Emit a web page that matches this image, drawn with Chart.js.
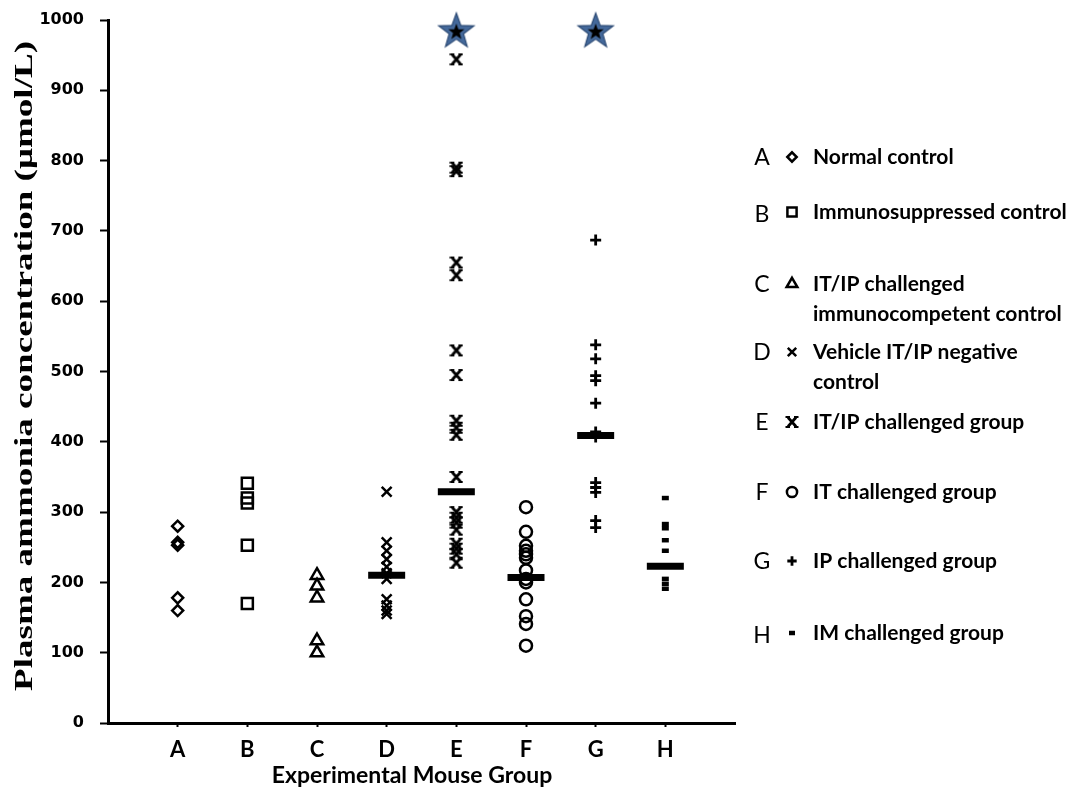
<!DOCTYPE html>
<html>
<head>
<meta charset="utf-8">
<script src="https://cdn.jsdelivr.net/npm/chart.js@4/dist/chart.umd.min.js"></script>
<style>
  html, body { margin: 0; padding: 0; background: #fff; }
  #wrap { width: 1088px; height: 795px; }
</style>
</head>
<body>
<div id="wrap"><canvas id="ammoniaChart" width="1088" height="795"></canvas></div>
<script>
// group letters on the x axis and their legend text
const groups = ['A', 'B', 'C', 'D', 'E', 'F', 'G', 'H'];
const groupLabels = [
    ['Normal control'],
    ['Immunosuppressed control'],
    ['IT/IP challenged', 'immunocompetent control'],
    ['Vehicle IT/IP negative', 'control'],
    ['IT/IP challenged group'],
    ['IT challenged group'],
    ['IP challenged group'],
    ['IM challenged group']
];

// plasma ammonia per mouse (umol/L)
const groupA = [280, 257, 253, 178, 160];
const groupB = [341, 320, 313, 253, 170];
const groupC = [210, 195, 178, 117, 100];
const groupD = [329, 257, 245, 233, 222, 213, 205, 176, 167, 160, 155];
const groupE = [944, 790, 785, 655, 637, 530, 495, 430, 420, 410, 350, 300, 292, 285, 275, 255, 248, 240, 228];
const groupF = [307, 272, 252, 245, 240, 235, 217, 205, 200, 176, 152, 141, 110];
const groupG = [687, 538, 518, 494, 487, 455, 414, 407, 342, 335, 328, 288, 278];
const groupH = [320, 283, 277, 260, 245, 205, 198, 191];

// central bars (A-C have none) and significance stars
const medians = [null, null, null, 210, 329, 207, 409, 223];
const stars = [null, null, null, null, 985, null, 985, null];

const yTicks = [0, 100, 200, 300, 400, 500, 600, 700, 800, 900, 1000];

document.addEventListener('DOMContentLoaded', function() {

    // marker for group E: bold x with flat feet
    function makeEMarker() {
        const c = document.createElement('canvas');
        c.width = 14; c.height = 14;
        const g = c.getContext('2d');
        g.strokeStyle = '#000';
        g.lineWidth = 2.8;
        g.beginPath();
        g.moveTo(3, 2.5); g.lineTo(11, 11.5);
        g.moveTo(11, 2.5); g.lineTo(3, 11.5);
        g.stroke();
        g.lineWidth = 2;
        g.beginPath();
        g.moveTo(0.5, 2); g.lineTo(5, 2);
        g.moveTo(9, 2); g.lineTo(13.5, 2);
        g.moveTo(0.5, 12); g.lineTo(5, 12);
        g.moveTo(9, 12); g.lineTo(13.5, 12);
        g.stroke();
        return c;
    }

    function starPath(g, cx, cy, ro, ri) {
        g.beginPath();
        for (let i = 0; i < 10; i++) {
            const r = i % 2 === 0 ? ro : ri;
            const a = -Math.PI / 2 + i * Math.PI / 5;
            const px = cx + r * Math.cos(a), py = cy + r * Math.sin(a);
            if (i === 0) g.moveTo(px, py); else g.lineTo(px, py);
        }
        g.closePath();
    }

    function makeStar() {
        const c = document.createElement('canvas');
        c.width = 40; c.height = 40;
        const g = c.getContext('2d');
        starPath(g, 20, 21, 18.5, 7.6);
        g.fillStyle = '#44699b';
        g.fill();
        g.strokeStyle = '#2c4a74';
        g.lineWidth = 1.2;
        g.stroke();
        starPath(g, 20, 21.5, 8.5, 3.5);
        g.fillStyle = '#000';
        g.fill();
        return c;
    }

    const eMarker = makeEMarker();
    const starMarker = makeStar();

    function toPoints(idx, values) {
        return values.map(v => ({ x: idx + 1, y: v }));
    }
    function sparse(values) {
        const pts = [];
        values.forEach((v, i) => { if (v !== null) pts.push({ x: i + 1, y: v }); });
        return pts;
    }

    // per-group marker styling
    const markerStyles = [
        { pointStyle: 'rectRot', radius: 5.5, borderWidth: 2.5 },
        { pointStyle: 'rect', radius: 7.8, borderWidth: 2.5 },
        { pointStyle: 'triangle', radius: 7.2, borderWidth: 2.5 },
        { pointStyle: 'crossRot', radius: 7, borderWidth: 2.5 },
        { pointStyle: eMarker, radius: 7, borderWidth: 2 },
        { pointStyle: 'circle', radius: 6, borderWidth: 2.5 },
        { pointStyle: 'cross', radius: 5.5, borderWidth: 2.8 },
        { pointStyle: 'line', radius: 3.5, borderWidth: 4.5 }
    ];
    const groupData = [groupA, groupB, groupC, groupD, groupE, groupF, groupG, groupH];

    const datasets = [{
        label: 'median',
        data: sparse(medians),
        pointStyle: 'line',
        pointRadius: 18.5,
        pointBorderWidth: 7,
        borderColor: '#000',
        backgroundColor: '#000',
        order: 0
    }, {
        label: 'significant',
        data: sparse(stars),
        pointStyle: starMarker,
        pointRadius: 18,
        clip: false,
        order: 2
    }];

    groupData.forEach((vals, i) => {
        const m = markerStyles[i];
        datasets.push({
            label: groups[i],
            data: toPoints(i, vals),
            pointStyle: m.pointStyle,
            pointRadius: m.radius,
            pointBorderWidth: m.borderWidth,
            borderColor: '#000',
            backgroundColor: 'rgba(255,255,255,0)',
            order: 1
        });
    });

    // titles and right-hand key
    const annotations = {
        id: 'annotations',
        afterDraw(chart) {
            const c = chart.ctx;
            c.save();
            c.fillStyle = '#000';

            // y title (stretched serif like the original)
            const yTitle = 'Plasma ammonia concentration (\u03bcmol/L)';
            c.font = 'bold 26px "Liberation Serif"';
            const w = c.measureText(yTitle).width;
            c.translate(25, 366);
            c.rotate(-Math.PI / 2);
            c.scale(650 / w, 1);
            c.textAlign = 'center';
            c.textBaseline = 'middle';
            c.fillText(yTitle, 0, 0);
            c.setTransform(1, 0, 0, 1, 0, 0);

            // x title
            c.font = 'bold 23px Lato';
            c.textAlign = 'center';
            c.textBaseline = 'middle';
            c.fillText('Experimental Mouse Group', 412, 776);

            // key
            const rowY = [157, 212, 284, 352, 422, 492, 561, 633];
            groups.forEach((g, i) => {
                const y = rowY[i];
                c.font = '23px Lato';
                c.textAlign = 'center';
                c.fillStyle = '#000';
                c.fillText(g, 762, y + (i === 1 || i === 7 ? 3 : 1));
                const m = markerStyles[i];
                c.strokeStyle = '#000';
                c.lineWidth = m.borderWidth;
                c.fillStyle = 'rgba(255,255,255,0)';
                Chart.helpers.drawPoint(c, {
                    pointStyle: m.pointStyle,
                    radius: m.pointStyle === 'rect' ? 6.5 : m.pointStyle === 'triangle' ? 6.2 : m.radius * 0.85,
                    borderWidth: m.borderWidth,
                    rotation: 0
                }, 792, y);
                c.fillStyle = '#000';
                c.font = 'bold 21px Lato';
                c.textAlign = 'left';
                groupLabels[i].forEach((line, k) => {
                    c.fillText(line, 813, y + k * 30);
                });
            });
            c.restore();
        }
    };

    const ctx = document.getElementById('ammoniaChart').getContext('2d');
    new Chart(ctx, {
        type: 'scatter',
        data: { datasets: datasets },
        options: {
            responsive: false,
            animation: false,
            events: [],
            layout: {
                autoPadding: false,
                padding: { top: 20, right: 353, left: 0, bottom: 0 }
            },
            plugins: {
                legend: { display: false },
                tooltip: { enabled: false }
            },
            scales: {
                x: {
                    type: 'linear',
                    min: 0,
                    max: 9,
                    afterBuildTicks(scale) {
                        scale.ticks = groups.map((g, i) => ({ value: i + 1 }));
                    },
                    afterFit(scale) {
                        scale.height = 72;
                        scale.paddingLeft = 0;
                        scale.paddingRight = 0;
                    },
                    ticks: {
                        callback: v => groups[v - 1] || '',
                        color: '#000',
                        padding: 10,
                        maxRotation: 0,
                        autoSkip: false,
                        font: { family: 'Lato', size: 22, weight: 'bold' }
                    },
                    grid: {
                        drawOnChartArea: false,
                        drawTicks: true,
                        tickLength: 4,
                        tickWidth: 2,
                        tickColor: '#000'
                    },
                    border: { display: true, color: '#000', width: 3 }
                },
                y: {
                    min: 0,
                    max: 1000,
                    afterBuildTicks(scale) {
                        scale.ticks = yTicks.map(v => ({ value: v }));
                    },
                    afterFit(scale) {
                        scale.width = 108;
                        scale.paddingTop = 0;
                        scale.paddingBottom = 0;
                    },
                    ticks: {
                        callback: v => String(v),
                        color: '#000',
                        padding: 16,
                        font: { family: 'DejaVu Sans', size: 16, weight: 'bold' }
                    },
                    grid: {
                        drawOnChartArea: false,
                        drawTicks: true,
                        tickLength: 8,
                        tickWidth: 2,
                        tickColor: '#000'
                    },
                    border: { display: true, color: '#000', width: 3 }
                }
            }
        },
        plugins: [annotations]
    });
});
</script>
</body>
</html>
